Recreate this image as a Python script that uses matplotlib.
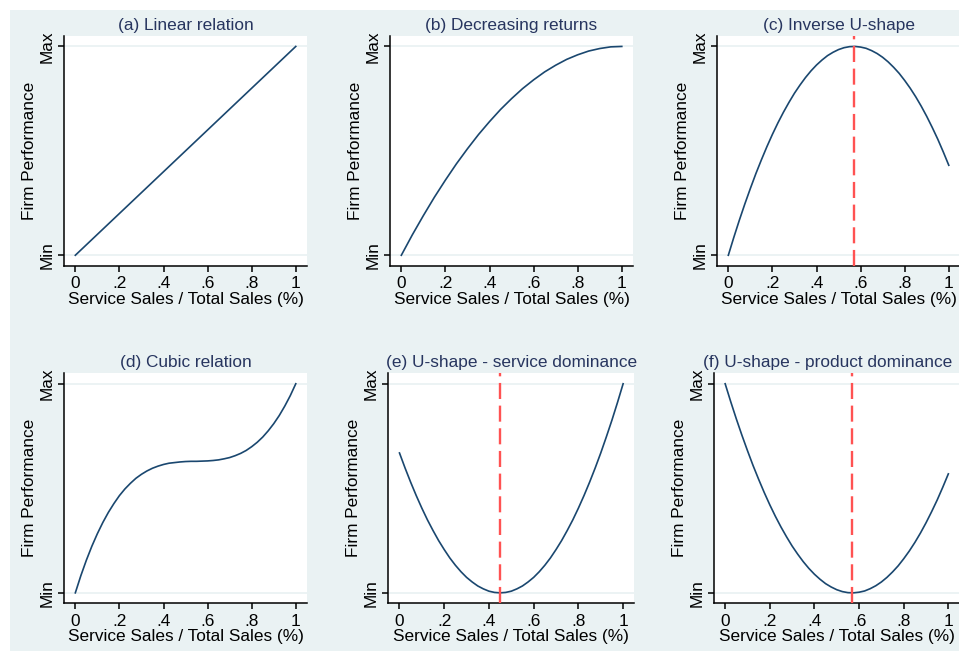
import matplotlib
matplotlib.use("Agg")
import matplotlib.pyplot as plt
from matplotlib.patches import Rectangle

plt.rcParams['font.family'] = ['Liberation Sans', 'DejaVu Sans']

# ---------------- data ----------------
titles = ["(a) Linear relation", "(b) Decreasing returns", "(c) Inverse U-shape",
          "(d) Cubic relation", "(e) U-shape - service dominance",
          "(f) U-shape - product dominance"]

x_linear = [0.0, 1.0]
a_linear = [0.0, 1.0]

x_fine = [0.000, 0.025, 0.050, 0.075, 0.100, 0.125, 0.150, 0.175, 0.200, 0.225,
          0.250, 0.275, 0.300, 0.325, 0.350, 0.375, 0.400, 0.425, 0.450, 0.475,
          0.500, 0.525, 0.550, 0.575, 0.600, 0.625, 0.650, 0.675, 0.700, 0.725,
          0.750, 0.775, 0.800, 0.825, 0.850, 0.875, 0.900, 0.925, 0.950, 0.975,
          1.000]

b_decreasing = [0.000, 0.049, 0.098, 0.144, 0.190, 0.234, 0.278, 0.319, 0.360,
                0.399, 0.438, 0.474, 0.510, 0.544, 0.578, 0.609, 0.640, 0.669,
                0.698, 0.724, 0.750, 0.774, 0.798, 0.819, 0.840, 0.859, 0.878,
                0.894, 0.910, 0.924, 0.938, 0.949, 0.960, 0.969, 0.978, 0.984,
                0.990, 0.994, 0.998, 0.999, 1.000]
c_inverse_u = [0.000, 0.086, 0.168, 0.246, 0.320, 0.391, 0.457, 0.520, 0.579,
               0.634, 0.685, 0.732, 0.776, 0.815, 0.851, 0.883, 0.911, 0.935,
               0.956, 0.972, 0.985, 0.994, 0.999, 1.000, 0.997, 0.991, 0.980,
               0.966, 0.948, 0.926, 0.900, 0.871, 0.837, 0.800, 0.759, 0.714,
               0.665, 0.612, 0.556, 0.495, 0.431]
d_cubic = [0.000, 0.082, 0.156, 0.223, 0.283, 0.337, 0.385, 0.427, 0.465, 0.497,
           0.524, 0.548, 0.567, 0.583, 0.596, 0.606, 0.614, 0.620, 0.623, 0.626,
           0.628, 0.629, 0.629, 0.630, 0.631, 0.633, 0.636, 0.641, 0.647, 0.656,
           0.667, 0.681, 0.699, 0.720, 0.745, 0.775, 0.809, 0.848, 0.893, 0.943,
           1.000]
e_u_service = [0.669, 0.597, 0.529, 0.465, 0.405, 0.349, 0.298, 0.250, 0.207,
               0.167, 0.132, 0.101, 0.074, 0.052, 0.033, 0.019, 0.008, 0.002,
               0.000, 0.002, 0.008, 0.019, 0.033, 0.052, 0.074, 0.101, 0.132,
               0.167, 0.207, 0.250, 0.298, 0.349, 0.405, 0.465, 0.529, 0.597,
               0.669, 0.746, 0.826, 0.911, 1.000]
f_u_product = [1.000, 0.914, 0.832, 0.754, 0.680, 0.609, 0.543, 0.480, 0.421,
               0.366, 0.315, 0.268, 0.224, 0.185, 0.149, 0.117, 0.089, 0.065,
               0.044, 0.028, 0.015, 0.006, 0.001, 0.000, 0.003, 0.009, 0.020,
               0.034, 0.052, 0.074, 0.100, 0.129, 0.163, 0.200, 0.241, 0.286,
               0.335, 0.388, 0.444, 0.505, 0.569]

turning_points = [None, None, 0.57, None, 0.45, 0.57]

x_ticks = [0.0, 0.2, 0.4, 0.6, 0.8, 1.0]
x_tick_labels = ["0", ".2", ".4", ".6", ".8", "1"]
y_ticks = [0.0, 1.0]
y_tick_labels = ["Min", "Max"]
x_label = "Service Sales / Total Sales (%)"
y_label = "Firm Performance"

series = [(x_linear, a_linear), (x_fine, b_decreasing), (x_fine, c_inverse_u),
          (x_fine, d_cubic), (x_fine, e_u_service), (x_fine, f_u_product)]

# ---------------- layout / style ----------------
W, H = 959, 651
DPI = 100
BG = "#EAF2F3"
LINE = "#1A476F"
RED = "#FF5252"
TITLE_C = "#27355F"
FS = 12.4

fig = plt.figure(figsize=(W / DPI, H / DPI), dpi=DPI, facecolor="white")
fig.patches.append(Rectangle((10 / W, 0), 1 - 10 / W, (H - 10) / H,
                             transform=fig.transFigure, facecolor=BG,
                             edgecolor="none", zorder=-10))

# axes boxes in pixels: (left, top, width, height)
boxes = [(64.3, 36.0, 242.5, 229.7), (390.3, 36.0, 242.5, 229.7),
         (717.3, 36.0, 242.5, 229.7),
         (64.3, 373.3, 242.5, 230.0), (388.3, 373.3, 246.0, 230.0),
         (714.0, 373.3, 245.5, 230.0)]
title_x = [0.5, 0.5, 0.5, 0.5, 0.5, 0.462]

for i, (box, (xs, ys)) in enumerate(zip(boxes, series)):
    l, t, w, h = box
    ax = fig.add_axes([l / W, (H - t - h) / H, w / W, h / H])
    ax.set_facecolor("white")
    ax.set_xlim(-0.05, 1.05)
    ax.set_ylim(-0.05, 1.05)
    for s in ("top", "right"):
        ax.spines[s].set_visible(False)
    for s in ("left", "bottom"):
        ax.spines[s].set_color("black")
        ax.spines[s].set_linewidth(1.1)
    ax.set_xticks(x_ticks)
    ax.set_xticklabels(x_tick_labels, fontsize=FS)
    ax.set_yticks(y_ticks)
    ax.set_yticklabels(y_tick_labels, fontsize=FS, rotation=90, va="center")
    ax.tick_params(axis="x", length=4.5, width=1.1, pad=3.0, colors="black")
    ax.tick_params(axis="y", length=4.5, width=1.1, pad=2.5, colors="black")
    ax.yaxis.grid(True, color=BG, linewidth=1.3)
    ax.set_axisbelow(True)
    ax.plot(xs, ys, color=LINE, linewidth=1.2, zorder=3)
    if turning_points[i] is not None:
        ax.axvline(turning_points[i], color=RED, linewidth=1.7,
                   dashes=(6.8, 2.8), zorder=4)
    ax.set_xlabel(x_label, fontsize=FS, labelpad=0.4)
    ax.set_ylabel(y_label, fontsize=FS, labelpad=1.8)
    ax.set_title(titles[i], fontsize=FS, color=TITLE_C, pad=4.5, x=title_x[i])

fig.savefig("out.png", dpi=DPI, facecolor="white")
